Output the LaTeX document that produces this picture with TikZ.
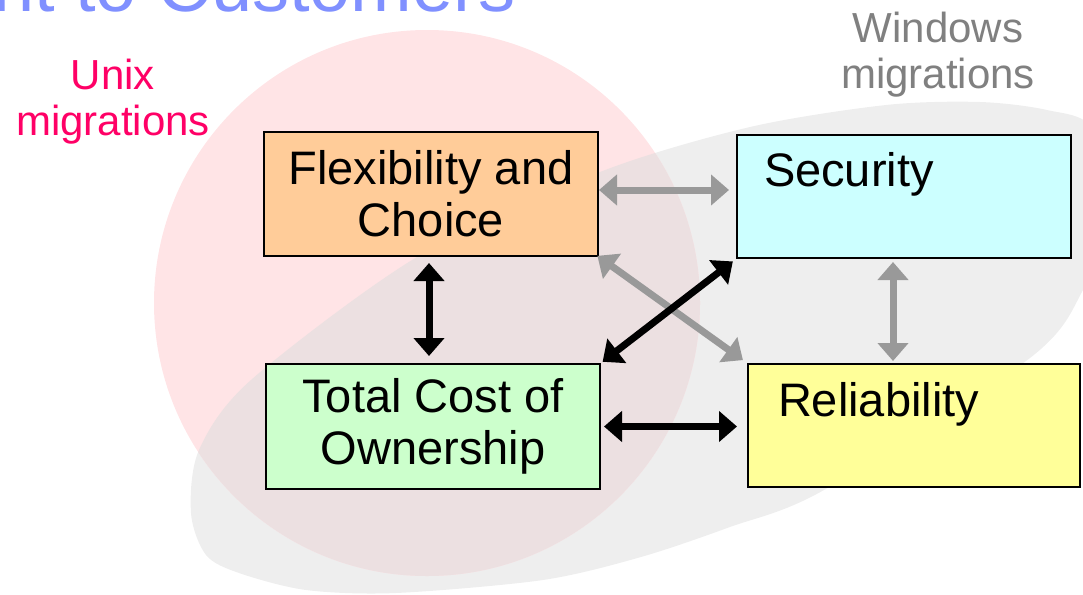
\documentclass[tikz,border=0pt]{standalone}
\usepackage{fontspec}
\setmainfont{Liberation Sans}
\usetikzlibrary{arrows.meta}

\definecolor{unixpink}{HTML}{FFE4E6}
\definecolor{winfog}{HTML}{EEEEEE}
\definecolor{bothfog}{HTML}{ECE0E1}
\definecolor{flexfill}{HTML}{FFCC99}
\definecolor{costfill}{HTML}{CCFFCC}
\definecolor{secfill}{HTML}{CCFFFF}
\definecolor{relfill}{HTML}{FFFF99}
\definecolor{linkgrey}{HTML}{999999}
\definecolor{unixred}{HTML}{FF0066}
\definecolor{wingrey}{HTML}{808080}
\definecolor{titleblue}{HTML}{8090FF}

\tikzset{
	box/.style={draw=black, line width=2pt, inner sep=0pt, font=\fontsize{47}{52}\selectfont},
	link/.style={line width=7pt, >={Triangle[width=30pt,length=18pt]}, <->},
	greylink/.style={link, draw=linkgrey, fill=linkgrey},
	blacklink/.style={link, draw=black, fill=black},
	camp/.style={align=center, font=\fontsize{42}{46}\selectfont}
}

\begin{document}
\begin{tikzpicture}[x=1pt, y=-1pt]
		\useasboundingbox (0,0) rectangle (1083,594);
		% windows area and unix area
		\fill[winfog] plot[smooth cycle, tension=0.5] coordinates {(199,450) (251,380) (417,257) (600,172) (750,127) (886,105) (980,102) (1047,110) (1092,128) (1112,210) (1083,290) (1030,358) (824,490) (730,527) (641,557) (543,580) (396,593) (306,590) (239,573) (206,555) (191,513)};
		\fill[unixpink] (427,303) circle (273);
		\begin{scope}
			\clip (427,303) circle (273);
			\fill[bothfog] plot[smooth cycle, tension=0.5] coordinates {(199,450) (251,380) (417,257) (600,172) (750,127) (886,105) (980,102) (1047,110) (1092,128) (1112,210) (1083,290) (1030,358) (824,490) (730,527) (641,557) (543,580) (396,593) (306,590) (239,573) (206,555) (191,513)};
		\end{scope}
		% titles
		\node[anchor=base west, text=titleblue, inner sep=0pt, font=\fontsize{74}{80}\selectfont] (title) at (-7,12) {nt to Customers};
		\node[camp, text=unixred] (unix) at (113,102) {Unix\\migrations};
		\node[camp, text=wingrey] (win) at (938,55) {Windows\\migrations};
		% boxes
		\node[box, fill=flexfill, minimum width=334pt, minimum height=124pt, align=center] (flex) at (431,194) {Flexibility and\\Choice};
		\node[box, fill=costfill, minimum width=334pt, minimum height=125pt, align=center] (cost) at (433,426.5) {Total Cost of\\Ownership};
		\node[box, fill=secfill, inner xsep=27pt, text width=280pt, align=left, text height=51pt, text depth=72pt] (sec) at (904,196.5) {Security};
		\node[box, fill=relfill, inner xsep=30pt, text width=272pt, align=left, text height=52pt, text depth=71pt] (rel) at (914,425.5) {Reliability};
		% links
		\draw[greylink, shorten >=7pt] ([yshift=4pt]flex.east) -- ([yshift=4pt]flex.east -| sec.west);
		\draw[greylink, shorten <=-2pt, shorten >=5pt] (flex.south east) -- (rel.north west);
		\draw[greylink, shorten <=3pt, shorten >=2pt] ([xshift=-11pt]sec.south) -- ([xshift=-11pt]sec.south |- rel.north);
		\draw[blacklink, shorten <=6pt, shorten >=7pt] ([xshift=-2pt]flex.south) -- ([xshift=-2pt]flex.south |- cost.north);
		\draw[blacklink, shorten <=4pt, shorten >=2pt] (sec.south west) -- (cost.north east);
		\draw[blacklink, shorten <=3pt, shorten >=10pt] (cost.east) -- (cost.east -| rel.west);
	\end{tikzpicture}
\end{document}
